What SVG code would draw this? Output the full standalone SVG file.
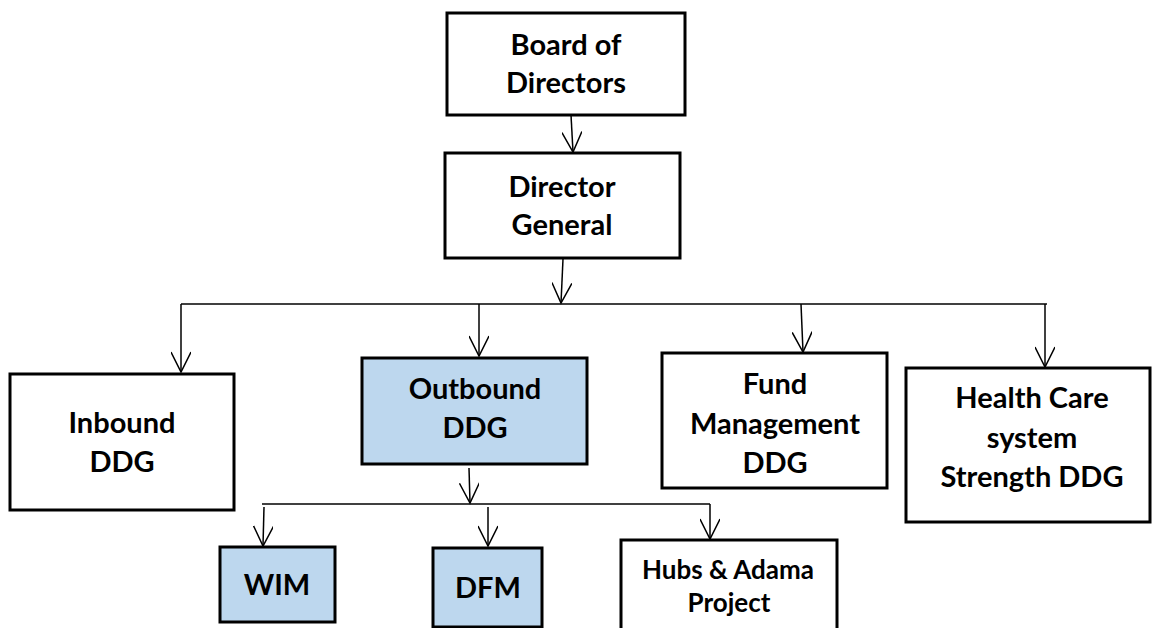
<svg xmlns="http://www.w3.org/2000/svg" width="1153" height="628" viewBox="0 0 1153 628">
  <defs>
    <style>
      .box { fill: #ffffff; stroke: #000000; stroke-width: 3; }
      .blue { fill: #bdd7ee; }
      .lbl { font-family: Lato, "Liberation Sans", sans-serif; font-weight: bold; font-size: 29px; fill: #000000; text-anchor: middle; }
      .small { font-size: 26px; }
      .wire { fill: none; stroke: #000000; stroke-width: 1.5; }
    </style>
    <marker id="vee" viewBox="0 0 24 20" refX="22" refY="10" markerWidth="24" markerHeight="20" markerUnits="userSpaceOnUse" orient="auto">
      <path d="M2,0 L22,10 L2,20" fill="none" stroke="#000000" stroke-width="1.5"/>
    </marker>
  </defs>

  <rect width="1153" height="628" fill="#ffffff"/>

  <!-- connectors -->
  <g id="connectors">
    <line class="wire" x1="571" y1="115" x2="573" y2="152" marker-end="url(#vee)"/>
    <line class="wire" x1="563" y1="259" x2="561" y2="303" marker-end="url(#vee)"/>
    <line class="wire" x1="181" y1="304" x2="1047" y2="304"/>
    <line class="wire" x1="181" y1="304" x2="181" y2="372" marker-end="url(#vee)"/>
    <line class="wire" x1="479" y1="304" x2="479" y2="356" marker-end="url(#vee)"/>
    <line class="wire" x1="801" y1="304" x2="803" y2="352" marker-end="url(#vee)"/>
    <line class="wire" x1="1045" y1="304" x2="1045" y2="367" marker-end="url(#vee)"/>
    <line class="wire" x1="469" y1="468" x2="470" y2="503" marker-end="url(#vee)"/>
    <line class="wire" x1="262" y1="504" x2="710" y2="504"/>
    <line class="wire" x1="264" y1="507" x2="263" y2="546" marker-end="url(#vee)"/>
    <line class="wire" x1="488" y1="507" x2="488" y2="546" marker-end="url(#vee)"/>
    <line class="wire" x1="710" y1="504" x2="710" y2="539" marker-end="url(#vee)"/>
  </g>

  <g id="board">
    <rect class="box" x="447" y="13" width="238" height="102"/>
    <text class="lbl" x="566" y="55">Board of</text>
    <text class="lbl" x="566" y="93">Directors</text>
  </g>

  <g id="director-general">
    <rect class="box" x="445" y="153" width="235" height="105"/>
    <text class="lbl" x="562" y="197">Director</text>
    <text class="lbl" x="562" y="235">General</text>
  </g>

  <g id="inbound">
    <rect class="box" x="10" y="374" width="224" height="136"/>
    <text class="lbl" x="122" y="433">Inbound</text>
    <text class="lbl" x="122" y="472">DDG</text>
  </g>

  <g id="outbound">
    <rect class="box blue" x="362" y="358" width="225" height="106"/>
    <text class="lbl" x="475" y="399">Outbound</text>
    <text class="lbl" x="475" y="438">DDG</text>
  </g>

  <g id="fund">
    <rect class="box" x="662" y="353" width="225" height="135"/>
    <text class="lbl" x="775" y="394">Fund</text>
    <text class="lbl" x="775" y="434">Management</text>
    <text class="lbl" x="775" y="473">DDG</text>
  </g>

  <g id="health">
    <rect class="box" x="906" y="368" width="244" height="154"/>
    <text class="lbl" x="1032" y="408">Health Care</text>
    <text class="lbl" x="1032" y="448">system</text>
    <text class="lbl" x="1032" y="487">Strength DDG</text>
  </g>

  <g id="wim">
    <rect class="box blue" x="220" y="547" width="115" height="75"/>
    <text class="lbl" x="277" y="595">WIM</text>
  </g>

  <g id="dfm">
    <rect class="box blue" x="433" y="548" width="109" height="79"/>
    <text class="lbl" x="488" y="598">DFM</text>
  </g>

  <g id="hubs">
    <rect class="box" x="621" y="540" width="216" height="100"/>
    <text class="lbl small" x="728" y="579">Hubs &amp; Adama</text>
    <text class="lbl small" x="729" y="612">Project</text>
  </g>
</svg>
